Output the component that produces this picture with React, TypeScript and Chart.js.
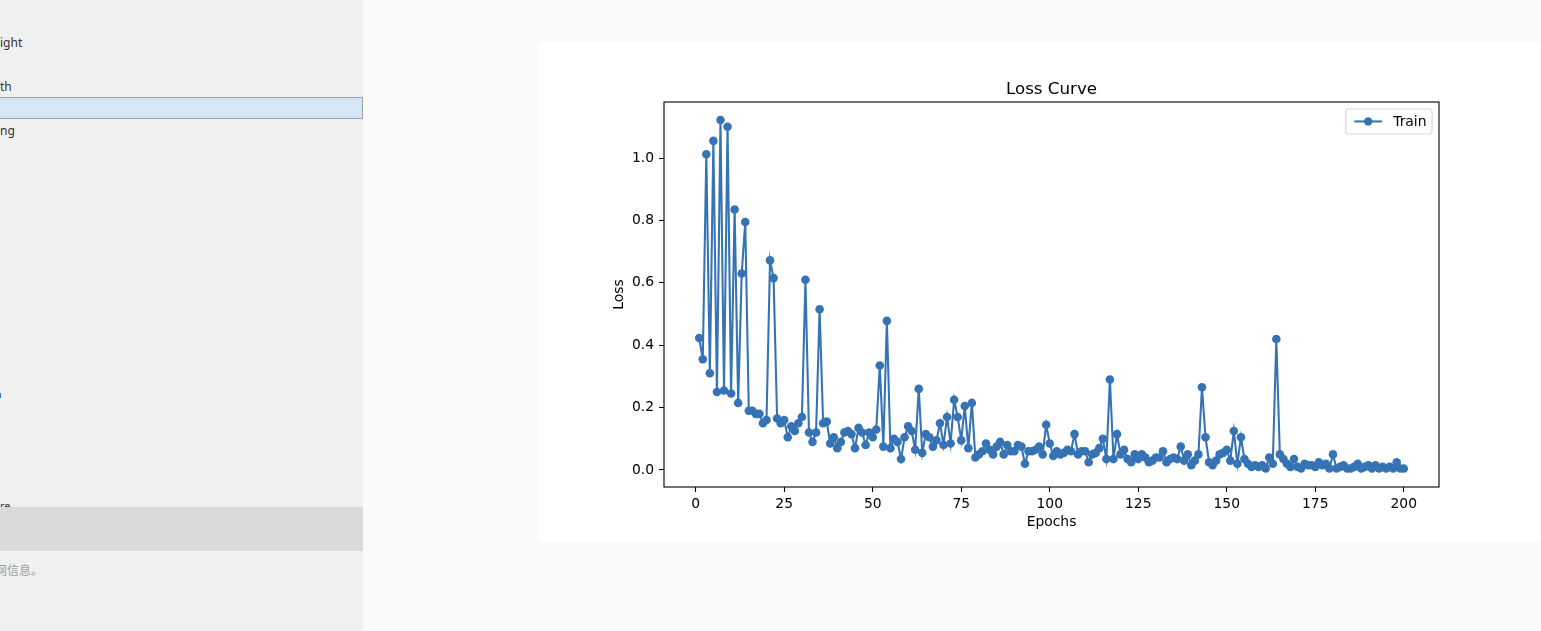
import React, { useEffect, useRef } from "react";
import { Chart, registerables } from "chart.js";

Chart.register(...registerables);

// ---- data ----
const epochs: number[] = Array.from({ length: 200 }, (_, i) => i + 1);

const trainLoss: number[] = [
  0.423, 0.355, 1.012, 0.31, 1.055, 0.25, 1.122, 0.255, 1.1, 0.245,
  0.835, 0.215, 0.63, 0.795, 0.19, 0.19, 0.18, 0.18, 0.15, 0.16,
  0.672, 0.615, 0.165, 0.15, 0.16, 0.105, 0.14, 0.125, 0.15, 0.17,
  0.61, 0.12, 0.09, 0.12, 0.515, 0.15, 0.155, 0.085, 0.105, 0.07,
  0.09, 0.12, 0.125, 0.115, 0.07, 0.135, 0.12, 0.08, 0.12, 0.105,
  0.13, 0.335, 0.075, 0.478, 0.07, 0.1, 0.09, 0.035, 0.105, 0.14,
  0.125, 0.065, 0.26, 0.055, 0.115, 0.105, 0.075, 0.095, 0.15, 0.08,
  0.17, 0.085, 0.225, 0.17, 0.095, 0.205, 0.07, 0.215, 0.04, 0.05,
  0.06, 0.085, 0.065, 0.05, 0.075, 0.09, 0.05, 0.08, 0.06, 0.06,
  0.08, 0.075, 0.02, 0.06, 0.06, 0.065, 0.075, 0.05, 0.145, 0.085,
  0.045, 0.06, 0.05, 0.055, 0.065, 0.06, 0.115, 0.05, 0.06, 0.06,
  0.025, 0.05, 0.055, 0.07, 0.1, 0.035, 0.29, 0.035, 0.115, 0.05,
  0.065, 0.035, 0.025, 0.05, 0.035, 0.05, 0.04, 0.025, 0.03, 0.04,
  0.04, 0.06, 0.025, 0.035, 0.04, 0.035, 0.075, 0.03, 0.05, 0.015,
  0.03, 0.05, 0.265, 0.105, 0.025, 0.015, 0.03, 0.05, 0.055, 0.065,
  0.03, 0.125, 0.02, 0.105, 0.035, 0.02, 0.01, 0.015, 0.01, 0.015,
  0.005, 0.04, 0.02, 0.42, 0.05, 0.035, 0.02, 0.01, 0.035, 0.01,
  0.005, 0.02, 0.015, 0.015, 0.01, 0.025, 0.015, 0.02, 0.005, 0.05,
  0.005, 0.01, 0.015, 0.005, 0.005, 0.01, 0.02, 0.005, 0.01, 0.015,
  0.005, 0.015, 0.005, 0.01, 0.005, 0.01, 0.005, 0.025, 0.005, 0.005,
];

const xTicks: number[] = [0, 25, 50, 75, 100, 125, 150, 175, 200];
const yTicks: number[] = [0.0, 0.2, 0.4, 0.6, 0.8, 1.0];
const seriesLabel = "Train";
const titleText = "Loss Curve";
const xTitle = "Epochs";
const yTitle = "Loss";

// ---- styles ----
const FONT = "'DejaVu Sans', sans-serif";
const LINE_COLOR = "#3573b4";
const FS = 13.89;

const framePlugin = {
  id: "mplFrame",
  afterDatasetsDraw(chart: any) {
    const { ctx, chartArea } = chart;
    ctx.save();
    ctx.strokeStyle = "#000";
    ctx.lineWidth = 1.1;
    ctx.strokeRect(
      chartArea.left,
      chartArea.top,
      chartArea.right - chartArea.left,
      chartArea.bottom - chartArea.top
    );
    ctx.restore();
  },
};

const legendPlugin = {
  id: "mplLegend",
  afterDraw(chart: any) {
    const { ctx, chartArea } = chart;
    const pad = 0.4 * FS;
    const handleLen = 2.0 * FS;
    const textPad = 0.8 * FS;
    ctx.save();
    ctx.font = `${FS}px ${FONT}`;
    const tw = ctx.measureText(seriesLabel).width;
    const w = pad + handleLen + textPad + tw + pad + 3;
    const h = 25;
    const right = chartArea.right - 0.5 * FS;
    const top = chartArea.top + 0.5 * FS;
    const left = right - w;
    ctx.beginPath();
    (ctx as any).roundRect(left, top, w, h, 0.2 * FS);
    ctx.fillStyle = "rgba(255,255,255,0.8)";
    ctx.fill();
    ctx.strokeStyle = "rgba(204,204,204,0.8)";
    ctx.lineWidth = 1.1;
    ctx.stroke();
    const cy = top + h / 2;
    const hx0 = left + pad + 3;
    ctx.beginPath();
    ctx.moveTo(hx0, cy);
    ctx.lineTo(hx0 + handleLen, cy);
    ctx.strokeStyle = LINE_COLOR;
    ctx.lineWidth = 2.08;
    ctx.stroke();
    ctx.beginPath();
    ctx.arc(hx0 + handleLen / 2, cy, 4.17, 0, Math.PI * 2);
    ctx.fillStyle = LINE_COLOR;
    ctx.fill();
    ctx.fillStyle = "#000";
    ctx.textBaseline = "middle";
    ctx.textAlign = "left";
    ctx.fillText(seriesLabel, hx0 + handleLen + textPad, cy + 0.5);
    ctx.restore();
  },
};

function LossChart() {
  const ref = useRef<HTMLCanvasElement | null>(null);
  useEffect(() => {
    if (!ref.current) return;
    const tickFont = { family: FONT, size: FS, weight: "normal" as const };
    const chart = new Chart(ref.current, {
      type: "line",
      data: {
        datasets: [
          {
            label: seriesLabel,
            data: epochs.map((e, i) => ({ x: e, y: trainLoss[i] })),
            borderColor: LINE_COLOR,
            backgroundColor: LINE_COLOR,
            pointBackgroundColor: LINE_COLOR,
            borderWidth: 2.08,
            pointRadius: 4.3,
            pointHoverRadius: 4.3,
            pointBorderWidth: 0,
            tension: 0,
            fill: false,
          },
        ],
      },
      options: {
        responsive: false,
        animation: false,
        events: [],
        layout: { padding: { left: 0, right: 100, top: 0, bottom: 0 } },
        plugins: {
          legend: { display: false },
          tooltip: { enabled: false },
          title: {
            display: true,
            text: titleText,
            fullSize: false,
            color: "#000",
            font: { family: FONT, size: 16.67, weight: "normal" },
            padding: { top: 38, bottom: 2 },
          },
        },
        scales: {
          x: {
            type: "linear",
            min: -8.95,
            max: 209.95,
            afterFit: (s: any) => {
              s.height = 55;
            },
            afterBuildTicks: (s: any) => {
              s.ticks = xTicks.map((v) => ({ value: v }));
            },
            ticks: {
              color: "#000",
              font: tickFont,
              padding: 4,
              autoSkip: false,
              maxRotation: 0,
              callback: (v: any) => String(v),
            },
            grid: {
              display: true,
              drawOnChartArea: false,
              drawTicks: true,
              tickLength: 5,
              tickColor: "#000",
              tickWidth: 1.1,
            },
            border: { display: false },
            title: {
              display: true,
              text: xTitle,
              color: "#000",
              font: tickFont,
              padding: { top: 0, bottom: 11.67 },
            },
          },
          y: {
            type: "linear",
            min: -0.0545,
            max: 1.1795,
            afterFit: (s: any) => {
              s.width = 125;
            },
            afterBuildTicks: (s: any) => {
              s.ticks = yTicks.map((v) => ({ value: v }));
            },
            ticks: {
              color: "#000",
              font: tickFont,
              padding: 5,
              autoSkip: false,
              callback: (v: any) => Number(v).toFixed(1),
            },
            grid: {
              display: true,
              drawOnChartArea: false,
              drawTicks: true,
              tickLength: 5,
              tickColor: "#000",
              tickWidth: 1.1,
            },
            border: { display: false },
            title: {
              display: true,
              text: yTitle,
              color: "#000",
              font: tickFont,
              padding: { top: 71.67, bottom: 0 },
            },
          },
        },
      } as any,
      plugins: [framePlugin, legendPlugin],
    });
    return () => chart.destroy();
  }, []);
  return <canvas ref={ref} width={1000} height={500} style={{ display: "block" }} />;
}

const sideText: React.CSSProperties = {
  position: "absolute",
  left: 0,
  fontFamily: "'Noto Sans', sans-serif",
  fontSize: 12,
  lineHeight: "16px",
  color: "#333",
  whiteSpace: "nowrap",
};

export default function App() {
  return (
    <div
      style={{
        position: "fixed",
        left: 0,
        top: 0,
        width: 1541,
        height: 631,
        overflow: "hidden",
        background: "#fafafa",
      }}
    >
      <div
        style={{
          position: "absolute",
          left: 0,
          top: 0,
          width: 363,
          height: 631,
          background: "#f0f0f0",
          overflow: "hidden",
        }}
      >
        <span style={{ ...sideText, top: 35 }}>ight</span>
        <span style={{ ...sideText, top: 79 }}>th</span>
        <div
          style={{
            position: "absolute",
            left: -2,
            top: 97,
            width: 363,
            height: 20,
            background: "#d5e7f7",
            border: "1px solid #9aa4a6",
          }}
        />
        <span style={{ ...sideText, top: 123 }}>ng</span>
        <div
          style={{
            position: "absolute",
            left: 0,
            top: 393,
            width: 1,
            height: 5,
            background: "#2a7fd4",
          }}
        />
        <span style={{ ...sideText, top: 498, fontSize: 11 }}>re</span>
        <div
          style={{
            position: "absolute",
            left: 0,
            top: 507,
            width: 363,
            height: 44,
            background: "#dadada",
          }}
        />
        <span
          style={{
            ...sideText,
            left: -5,
            top: 562,
            color: "#a0a0a0",
            fontFamily: "'Noto Sans CJK SC', sans-serif",
          }}
        >
          网信息。
        </span>
      </div>
      <div
        style={{
          position: "absolute",
          left: 539,
          top: 42,
          width: 1000,
          height: 500,
          background: "#ffffff",
        }}
      >
        <LossChart />
      </div>
    </div>
  );
}
